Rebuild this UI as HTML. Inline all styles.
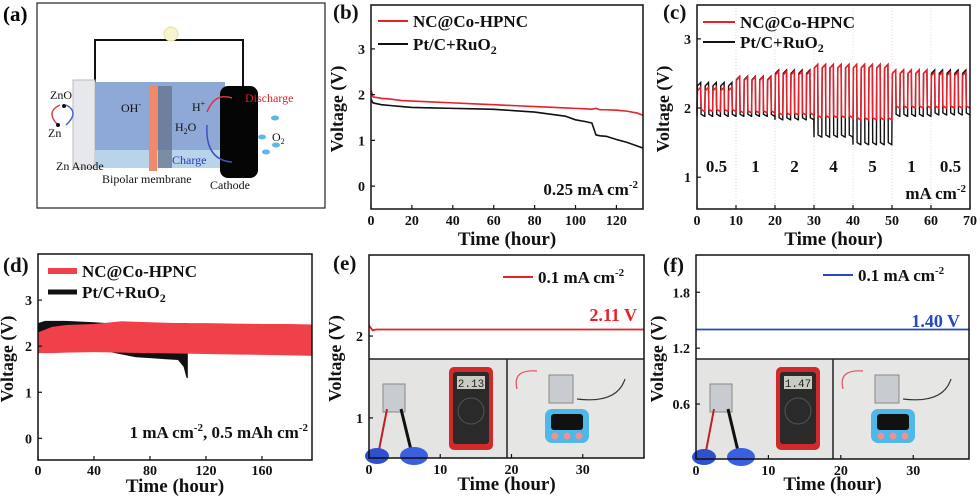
<!DOCTYPE html>
<html><head><meta charset="utf-8"><style>
html,body{margin:0;padding:0;background:#fff;width:980px;height:500px;overflow:hidden}
svg{display:block;font-family:"Liberation Serif",serif}
.t{font-weight:bold}
</style></head><body>
<svg id="fig" width="980" height="500" viewBox="0 0 980 500" xmlns="http://www.w3.org/2000/svg">
<g>
<text x="3" y="21" font-size="21" class="t">(a)</text>
<rect x="37" y="3" width="288" height="205" fill="#fff" stroke="#222" stroke-width="1.2"/>
<polyline points="95,82 95,40 243,40 243,88" fill="none" stroke="#111" stroke-width="2"/>
<circle cx="171" cy="34" r="7" fill="#f7f3d0" stroke="#e8e0a0"/>
<rect x="73" y="80" width="22" height="88" fill="#e6e8ec" stroke="#bbb"/>
<rect x="95" y="82" width="130" height="86" fill="#8fa9d6"/>
<rect x="95" y="150" width="130" height="18" fill="#b9d3ea"/>
<rect x="158" y="86" width="14" height="82" fill="#5f6f84" opacity="0.7"/>
<rect x="149" y="85" width="8" height="86" fill="#f08a6a"/>
<rect x="220" y="86" width="38" height="92" rx="8" fill="#050505"/>
<path d="M207 112 Q215 92 232 98" fill="none" stroke="#e03040" stroke-width="1.5"/>
<path d="M207 125 Q205 160 232 162" fill="none" stroke="#4050c0" stroke-width="1.5"/>
<path d="M60 105 Q45 112 58 125" fill="none" stroke="#e04050" stroke-width="1.5"/>
<path d="M66 105 Q80 112 66 125" fill="none" stroke="#5060d0" stroke-width="1.5"/>
<circle cx="64" cy="106" r="2" fill="#111"/><circle cx="58" cy="125" r="2" fill="#111"/>
<g fill="#5ab8e8"><ellipse cx="275" cy="118" rx="4" ry="2.5"/><ellipse cx="262" cy="137" rx="4" ry="2.5"/><ellipse cx="276" cy="145" rx="4" ry="2.5"/><ellipse cx="266" cy="152" rx="4" ry="2.5"/></g>
<g font-size="12" fill="#111">
<text x="50" y="99">ZnO</text><text x="48" y="137">Zn</text>
<text x="121" y="112">OH<tspan font-size="8" dy="-5">-</tspan></text>
<text x="192" y="111">H<tspan font-size="8" dy="-5">+</tspan></text>
<text x="175" y="131">H<tspan font-size="8" dy="3">2</tspan><tspan dy="-3">O</tspan></text>
<text x="245" y="102" fill="#e0202a">Discharge</text>
<text x="272" y="141">O<tspan font-size="8" dy="3">2</tspan></text>
<text x="172" y="164" fill="#2a3ac0">Charge</text>
<text x="56" y="170">Zn Anode</text>
<text x="102" y="183">Bipolar membrane</text>
<text x="210" y="189">Cathode</text>
</g>
</g>
</svg>
<script>
// ---------- DATA ----------
const bTime=[0,1,5,10,15,20,30,40,50,60,70,80,90,95,100,105,108,110,112,115,120,125,130,133];
const bNC=[2.1,1.95,1.92,1.9,1.87,1.86,1.84,1.82,1.8,1.78,1.76,1.74,1.72,1.71,1.7,1.69,1.68,1.7,1.67,1.67,1.66,1.64,1.6,1.55];
const bPt=[1.9,1.82,1.78,1.76,1.74,1.72,1.71,1.7,1.69,1.68,1.65,1.62,1.56,1.53,1.45,1.41,1.38,1.12,1.1,1.09,1.02,0.96,0.88,0.83];
const bYTicks=[0,1,2,3];const bXTicks=[0,20,40,60,80,100,120];
const cRates=["0.5","1","2","4","5","1","0.5"];
const cNCcharge=[2.3,2.45,2.53,2.63,2.63,2.55,2.52];
const cNCdis=[1.95,1.93,1.9,1.86,1.83,2.0,2.0];
const cPtcharge=[2.37,2.46,2.55,2.63,2.63,2.55,2.55];
const cPtdis=[1.88,1.88,1.83,1.58,1.47,1.88,1.9];
const cYTicks=[1,2,3];const cXTicks=[0,10,20,30,40,50,60,70];
const dNCtime=[0,10,20,40,60,80,100,120,140,160,180,196];
const dNCup=[2.3,2.42,2.46,2.48,2.54,2.52,2.5,2.5,2.49,2.48,2.48,2.47];
const dNClo=[1.85,1.85,1.86,1.87,1.86,1.85,1.84,1.83,1.82,1.81,1.8,1.79];
const dPttime=[0,5,20,40,50,60,70,80,90,100,104,106,107];
const dPtup=[2.5,2.55,2.55,2.52,2.5,2.5,2.5,2.5,2.5,2.5,2.5,2.5,2.5];
const dPtlo=[1.95,1.9,1.9,1.9,1.88,1.82,1.76,1.74,1.72,1.7,1.55,1.32,1.3];
const dYTicks=[0,1,2,3];const dXTicks=[0,40,80,120,160];
const eTime=[0,0.5,1,38.6];const eV=[2.13,2.07,2.08,2.08];
const eYTicks=[1,2];const eXTicks=[0,10,20,30];
const fTime=[0,37.7];const fV=[1.4,1.4];
const fYTicks=[0.6,1.2,1.8];const fXTicks=[0,10,20,30];

// ---------- helpers ----------
const svg=document.getElementById('fig');const NS='http://www.w3.org/2000/svg';
function mk(tag,attrs,parent){const e=document.createElementNS(NS,tag);for(const k in attrs)e.setAttribute(k,attrs[k]);(parent||svg).appendChild(e);return e;}
function txt(s,x,y,size,parent,anchor,fill){const e=mk('text',{x:x,y:y,'font-size':size,'font-weight':'bold','text-anchor':anchor||'start',fill:fill||'#111'},parent);e.innerHTML=s;return e;}
function axes(box,xr,yr){
  const sx=v=>box.x0+(v-xr[0])/(xr[1]-xr[0])*(box.x1-box.x0);
  const sy=v=>box.y1-(v-yr[0])/(yr[1]-yr[0])*(box.y1-box.y0);
  return {sx,sy};
}
function frame(g,box,sx,sy,xt,yt,fmt,toff){
  const r=mk('rect',{x:box.x0,y:box.y0,width:box.x1-box.x0,height:box.y1-box.y0,fill:'none',stroke:'#111','stroke-width':1.5},g);
  
  
  xt.forEach(v=>{const x=sx(v);mk('line',{x1:x,x2:x,y1:box.y1,y2:box.y1-4,stroke:'#111','stroke-width':1.2},g);
    const t=txt(String(v),x,box.y1+(toff||16),14,g,'middle');
    
    });
  yt.forEach(v=>{const y=sy(v);mk('line',{x1:box.x0,x2:box.x0+4,y1:y,y2:y,stroke:'#111','stroke-width':1.2},g);
    const t=txt(fmt?fmt(v):String(v),box.x0-6,y+5,14,g,'end');
    
    });
}
function titles(g,box,label,lx,ly,xoff,yoff){
  const xt=txt('Time (hour)',(box.x0+box.x1)/2,box.y1+xoff,19,g,'middle');
  
  
  const cy=(box.y0+box.y1)/2+2;
  const yt=txt('Voltage (V)',0,0,18,g,'middle');
  yt.setAttribute('transform','translate('+(box.x0-yoff)+','+cy+') rotate(-90)');
  
  
  const pl=txt(label,lx,ly,21,g);
  
  
}
function line(g,xs,ys,sx,sy,color,w){return mk('polyline',{points:xs.map((x,i)=>sx(x)+','+sy(ys[i])).join(' '),fill:'none',stroke:color,'stroke-width':w||1.6},g);}
function legend(g,x1,x2,y,color,label,w){mk('line',{x1:x1,x2:x2,y1:y,y2:y,stroke:color,'stroke-width':w||2},g);const t=txt(label,x2+5,y+6,17,g);return t;}

// ---------- Panel b ----------
(function(){
  const g=mk('g',{});
  const box={x0:371,x1:643,y0:5,y1:209};
  const {sx,sy}=axes(box,[0,133],[-0.5,3.96]);
  const pNC=line(g,bTime,bNC,sx,sy,'#e8202a');
  const pPt=line(g,bTime,bPt,sx,sy,'#111');
  frame(g,box,sx,sy,bXTicks,bYTicks);
  titles(g,box,'(b)',333,19,36,28);
  const l1=legend(g,378,408,21,'#e8202a','NC@Co-HPNC');
  const l2=legend(g,378,408,44,'#111','Pt/C+RuO<tspan font-size="12" dy="4">2</tspan>');
  const a=txt('0.25 mA cm<tspan font-size="11" dy="-7">-2</tspan>',638,195,17,g,'end');
})();

// ---------- Panel c ----------
(function(){
  const g=mk('g',{});
  const box={x0:697,x1:970,y0:5,y1:209};
  const {sx,sy}=axes(box,[0,70],[0.54,3.49]);
  for(let i=1;i<7;i++){const x=sx(i*10);mk('line',{x1:x,x2:x,y1:box.y0,y2:box.y1,stroke:'#e8b0a0','stroke-width':0.6,'stroke-dasharray':'1,2'},g);}
  function wave(ch,dis){const xs=[],ys=[];
    for(let s=0;s<ch.length;s++){for(let c=0;c<5;c++){const t=s*10+c*2;
      xs.push(t,t+0.1,t+0.95,t+1.05,t+1.95);ys.push(dis[s],ch[s]-0.05,ch[s],dis[s]+0.03,dis[s]);}}
    return [xs,ys];}
  const [px,py]=wave(cPtcharge,cPtdis);
  const lp=line(g,px,py,sx,sy,'#111',1.4);
  const [nx,ny]=wave(cNCcharge,cNCdis);
  const ln=line(g,nx,ny,sx,sy,'#e8202a',1.6);
  frame(g,box,sx,sy,cXTicks,cYTicks);
  titles(g,box,'(c)',663,19,36,28);
  const l1=legend(g,703,735,22,'#e8202a','NC@Co-HPNC');
  const l2=legend(g,703,735,42,'#111','Pt/C+RuO<tspan font-size="12" dy="4">2</tspan>');
  cRates.forEach((r,i)=>{const t=txt(r,sx(i*10+5),172,17,g,'middle');});
  const u=txt('mA cm<tspan font-size="11" dy="-7">-2</tspan>',966,199,17,g,'end');
})();

// ---------- Panel d ----------
(function(){
  const g=mk('g',{});
  const box={x0:38,x1:312,y0:254,y1:460};
  const {sx,sy}=axes(box,[0,195.7],[-0.47,4.0]);
  function band(ts,up,lo,color){const pts=ts.map((t,i)=>sx(t)+','+sy(up[i])).concat(ts.slice().reverse().map((t,j)=>{const i=ts.length-1-j;return sx(t)+','+sy(lo[i]);}));return mk('polygon',{points:pts.join(' '),fill:color},g);}
  const bp=band(dPttime,dPtup,dPtlo,'#111');
  const bn=band(dNCtime,dNCup,dNClo,'#f0404a');
  frame(g,box,sx,sy,dXTicks,dYTicks,null,15);
  titles(g,box,'(d)',3,272,32,25);
  const l1=legend(g,48,77,271,'#f0404a','NC@Co-HPNC',6);
  const l2=legend(g,48,77,292,'#111','Pt/C+RuO<tspan font-size="12" dy="4">2</tspan>',5);
  const a=txt('1 mA cm<tspan font-size="11" dy="-7">-2</tspan><tspan dy="7">, 0.5 mAh cm</tspan><tspan font-size="11" dy="-7">-2</tspan>',308,438,17,g,'end');
})();

function photos(g,x0,xm,x1,y0,y1,reading){
  const p1=mk('rect',{x:x0,y:y0,width:xm-x0,height:y1-y0,fill:'#e4e4e2'},g);
  const p2=mk('rect',{x:xm,y:y0,width:x1-xm,height:y1-y0,fill:'#e6e6e4'},g);
  mk('line',{x1:xm,x2:xm,y1:y0,y2:y1,stroke:'#222','stroke-width':1.5},g);
  mk('line',{x1:x0,x2:x1,y1:y0,y2:y0,stroke:'#222','stroke-width':1.5},g);
  mk('rect',{x:x0+14,y:y0+25,width:22,height:28,fill:'#c8ccd0',stroke:'#888'},g);
  mk('line',{x1:x0+18,x2:x0+10,y1:y0+50,y2:y1-8,stroke:'#c02020','stroke-width':2},g);
  mk('line',{x1:x0+32,x2:x0+42,y1:y0+50,y2:y1-8,stroke:'#111','stroke-width':3},g);
  mk('ellipse',{cx:x0+8,cy:y1-2,rx:12,ry:8,fill:'#3050d0'},g);
  mk('ellipse',{cx:x0+45,cy:y1-2,rx:14,ry:9,fill:'#3a60e0'},g);
  const mx=x0+80;
  mk('rect',{x:mx,y:y0+8,width:44,height:83,rx:5,fill:'#d02a2a'},g);
  mk('rect',{x:mx+4,y:y0+13,width:36,height:72,rx:3,fill:'#2a2a2a'},g);
  mk('rect',{x:mx+8,y:y0+17,width:28,height:13,fill:'#c8ccc0'},g);
  const rt=mk('text',{x:mx+22,y:y0+28,'font-size':11,'text-anchor':'middle',fill:'#222','font-family':'Liberation Mono, monospace'},g);rt.textContent=reading;
  mk('circle',{cx:mx+22,cy:y0+52,r:13,fill:'none',stroke:'#555'},g);
  const tx=xm+38;
  mk('path',{d:'M'+(xm+10)+' '+(y0+30)+' Q'+(xm+5)+' '+(y0+10)+' '+(xm+30)+' '+(y0+12),fill:'none',stroke:'#e05060','stroke-width':1.2},g);
  mk('rect',{x:xm+42,y:y0+16,width:24,height:28,fill:'#c8ccd0',stroke:'#888'},g);
  mk('path',{d:'M'+(xm+70)+' '+(y0+40)+' Q'+(xm+110)+' '+(y0+45)+' '+(xm+118)+' '+(y0+20),fill:'none',stroke:'#333','stroke-width':1.2},g);
  mk('rect',{x:tx,y:y0+50,width:44,height:34,rx:7,fill:'#50b8e8'},g);
  mk('rect',{x:tx+6,y:y0+55,width:32,height:16,rx:3,fill:'#111'},g);
  [10,22,34].forEach(d=>mk('circle',{cx:tx+d,cy:y0+77,r:3.5,fill:'#f09090'},g));
}

// ---------- Panel e ----------
(function(){
  const g=mk('g',{});
  const box={x0:369,x1:644,y0:255,y1:458};
  const {sx,sy}=axes(box,[0,38.6],[0.51,2.99]);
  photos(g,369,507,644,359,458,'2.13');
  const l=line(g,eTime,eV,sx,sy,'#e8202a',1.8);
  frame(g,box,sx,sy,eXTicks,eYTicks);
  titles(g,box,'(e)',333,270,32,28);
  const l1=legend(g,503,533,277,'#e8202a','0.1 mA cm<tspan font-size="11" dy="-7">-2</tspan>');
  const v=txt('2.11 V',637,321,18,g,'end','#e8202a');
})();

// ---------- Panel f ----------
(function(){
  const g=mk('g',{});
  const box={x0:696,x1:969,y0:255,y1:459};
  const {sx,sy}=axes(box,[0,37.7],[0.01,2.2]);
  photos(g,696,833,969,359,459,'1.47');
  const l=line(g,fTime,fV,sx,sy,'#2848c0',1.8);
  frame(g,box,sx,sy,fXTicks,fYTicks,v=>v.toFixed(1));
  titles(g,box,'(f)',663,272,31,33);
  const l1=legend(g,823,853,275,'#2848c0','0.1 mA cm<tspan font-size="11" dy="-7">-2</tspan>');
  const v=txt('1.40 V',960,327,18,g,'end','#2848c0');
})();
</script>
</body></html>
